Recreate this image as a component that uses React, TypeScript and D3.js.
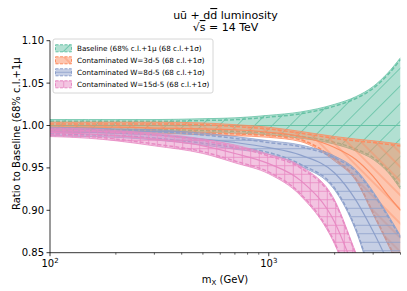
import * as d3 from "d3";

const masses = [100, 150, 200, 300, 500, 700, 1000, 1400, 2000, 2500, 3000, 3500, 4000];

const baseUp = [1.007, 1.007, 1.007, 1.007, 1.008, 1.009, 1.012, 1.016, 1.025, 1.034, 1.046, 1.062, 1.08];
const baseMid = [1, 1, 1, 1, 1, 1, 1, 1, 1, 1, 1, 1, 1];
const baseLo = [0.993, 0.993, 0.993, 0.993, 0.992, 0.991, 0.989, 0.985, 0.978, 0.97, 0.96, 0.945, 0.925];

const w3Up = [1.004, 1.004, 1.004, 1.004, 1.003, 1.001, 0.998, 0.993, 0.987, 0.984, 0.982, 0.98, 0.978];
const w3Mid = [0.998, 0.998, 0.998, 0.997, 0.996, 0.995, 0.992, 0.987, 0.974, 0.96, 0.94, 0.918, 0.9];
const w3Lo = [0.992, 0.992, 0.991, 0.991, 0.989, 0.988, 0.986, 0.981, 0.958, 0.935, 0.895, 0.86, 0.83];

const w8Up = [0.998, 0.997, 0.996, 0.995, 0.991, 0.987, 0.982, 0.977, 0.964, 0.948, 0.922, 0.895, 0.87];
const w8Mid = [0.993, 0.992, 0.991, 0.989, 0.984, 0.98, 0.974, 0.965, 0.944, 0.912, 0.875, 0.84, 0.81];
const w8Lo = [0.988, 0.987, 0.986, 0.983, 0.977, 0.972, 0.966, 0.952, 0.924, 0.876, 0.815, 0.77, 0.73];

const w15Up = [0.997, 0.996, 0.994, 0.991, 0.984, 0.977, 0.966, 0.952, 0.912, 0.85, 0.8, 0.76, 0.72];
const w15Mid = [0.992, 0.99, 0.988, 0.984, 0.976, 0.967, 0.955, 0.935, 0.886, 0.825, 0.77, 0.73, 0.69];
const w15Lo = [0.987, 0.985, 0.982, 0.976, 0.967, 0.956, 0.943, 0.917, 0.86, 0.795, 0.74, 0.7, 0.66];

const labels = [
  "Baseline (68% c.l.+1\u03bc (68 c.l.+1\u03c3)",
  "Contaminated W=3d-5 (68 c.l.+1\u03c3)",
  "Contaminated W=8d-5 (68 c.l.+1\u03c3)",
  "Contaminated W=15d-5 (68 c.l.+1\u03c3)",
];
const colors = ["#66c2a5", "#fc8d62", "#8da0cb", "#e78ac3"];
const hatches = ["/", "\\", "-", "+"];

const yTicks = [0.85, 0.9, 0.95, 1.0, 1.05, 1.1];
const xMajor = [100, 1000];
const xMinor = [200, 300, 400, 500, 600, 700, 800, 900, 2000, 3000, 4000];

const yLabel = "Ratio to Baseline (68% c.l.+1\u03bc";

const W = 407,
  H = 291;
const m = { left: 50, right: 6.5, top: 40.7, bottom: 38.3 };

const bands = [
  { up: baseUp, mid: baseMid, lo: baseLo },
  { up: w3Up, mid: w3Mid, lo: w3Lo },
  { up: w8Up, mid: w8Mid, lo: w8Lo },
  { up: w15Up, mid: w15Mid, lo: w15Lo },
];

function Hatch({ id, kind, color }: { id: string; kind: string; color: string }) {
  if (kind === "/" || kind === "\\") {
    const s = kind === "/" ? 12.5 : 10;
    return (
      <pattern
        id={id}
        width={s}
        height={s}
        patternUnits="userSpaceOnUse"
        patternTransform={`rotate(${kind === "/" ? 45 : -45})`}
      >
        <line x1={s / 2} y1={0} x2={s / 2} y2={s} stroke={color} strokeWidth={0.8} />
      </pattern>
    );
  }
  const s = 8.5;
  return (
    <pattern id={id} width={s} height={s} patternUnits="userSpaceOnUse">
      <line x1={0} y1={s / 2} x2={s} y2={s / 2} stroke={color} strokeWidth={0.8} />
      {kind === "+" && <line x1={s / 2} y1={0} x2={s / 2} y2={s} stroke={color} strokeWidth={0.8} />}
    </pattern>
  );
}

export default function App() {
  const x = d3.scaleLog().domain([100, 4000]).range([m.left, W - m.right]);
  const y = d3.scaleLinear().domain([0.85, 1.1]).range([H - m.bottom, m.top]);

  const area = d3
    .area<number>()
    .x((_, i) => x(masses[i]))
    .curve(d3.curveMonotoneX);
  const line = d3
    .line<number>()
    .x((_, i) => x(masses[i]))
    .y((d) => y(d))
    .curve(d3.curveMonotoneX);

  const font = "DejaVu Sans, sans-serif";

  return (
    <svg
      width={W}
      height={H}
      style={{ position: "fixed", left: 0, top: 0, background: "#fff" }}
      fontFamily={font}
    >
      <defs>
        <clipPath id="plot">
          <rect x={m.left} y={m.top} width={W - m.left - m.right} height={H - m.top - m.bottom} />
        </clipPath>
        {colors.map((c, i) => (
          <Hatch key={i} id={`h${i}`} kind={hatches[i]} color={c} />
        ))}
      </defs>

      {/* bands */}
      <g clipPath="url(#plot)">
        {bands.map((b, i) => {
          const a = area
            .y0((_, j) => y(b.lo[j]))
            .y1((_, j) => y(b.up[j]))(b.mid) as string;
          return (
            <g key={i}>
              <path d={a} fill={colors[i]} fillOpacity={0.5} />
              <path d={a} fill={`url(#h${i})`} />
              <path d={line(b.up)!} fill="none" stroke={colors[i]} strokeWidth={0.8} />
              <path d={line(b.lo)!} fill="none" stroke={colors[i]} strokeWidth={0.8} />
              <path
                d={line(b.up)!}
                fill="none"
                stroke={colors[i]}
                strokeWidth={1.5}
                strokeDasharray="4,2"
                transform="translate(0,1.8)"
              />
              <path
                d={line(b.lo)!}
                fill="none"
                stroke={colors[i]}
                strokeWidth={1.5}
                strokeDasharray="4,2"
                transform="translate(0,-1.8)"
              />
              <path d={line(b.mid)!} fill="none" stroke={colors[i]} strokeWidth={1.2} />
            </g>
          );
        })}
      </g>

      {/* axes */}
      <g stroke="#000" strokeWidth={0.8}>
        <line x1={m.left} x2={m.left} y1={m.top} y2={H - m.bottom} />
        <line x1={m.left} x2={W - m.right} y1={H - m.bottom} y2={H - m.bottom} />
        {yTicks.map((t) => (
          <line key={t} x1={m.left - 3.5} x2={m.left} y1={y(t)} y2={y(t)} />
        ))}
        {xMajor.map((t) => (
          <line key={t} x1={x(t)} x2={x(t)} y1={H - m.bottom} y2={H - m.bottom + 3.5} />
        ))}
        {xMinor.map((t) => (
          <line key={t} x1={x(t)} x2={x(t)} y1={H - m.bottom} y2={H - m.bottom + 2} strokeWidth={0.6} />
        ))}
      </g>
      <g fontSize={10} fill="#000">
        {yTicks.map((t) => (
          <text key={t} x={m.left - 6} y={y(t)} dy="0.35em" textAnchor="end">
            {t.toFixed(2)}
          </text>
        ))}
        {xMajor.map((t) => (
          <text key={t} x={x(t)} y={H - m.bottom + 14.5} textAnchor="middle">
            10
            <tspan fontSize={7} dy={-4}>
              {Math.round(Math.log10(t))}
            </tspan>
          </text>
        ))}
        <text x={225} y={283} textAnchor="middle">
          m<tspan fontSize={7} dy={2}>X</tspan>
          <tspan dy={-2}> (GeV)</tspan>
        </text>
        <text transform="translate(19.5,210) rotate(-90)" textAnchor="start">
          {yLabel}
        </text>
      </g>

      {/* title */}
      <g fontSize={11} textAnchor="middle" fill="#000">
        <text x={225.5} y={19}>
          {"u\u016b + d"}
          <tspan textDecoration="overline">d</tspan>
          {" luminosity"}
        </text>
        <text x={225.5} y={31}>
          {"\u221a"}
          <tspan textDecoration="overline">s</tspan>
          {" = 14 TeV"}
        </text>
      </g>

      {/* legend */}
      <g>
        <rect x={53} y={39} width={160} height={54} rx={2} fill="#fff" fillOpacity={0.8} stroke="#ccc" strokeWidth={0.8} />
        {labels.map((l, i) => {
          const ry = 48.3 + i * 12;
          return (
            <g key={i}>
              <rect x={55.5} y={ry - 3.5} width={16} height={7} fill={colors[i]} fillOpacity={0.5} />
              <rect
                x={55.5}
                y={ry - 3.5}
                width={16}
                height={7}
                fill={`url(#h${i})`}
                stroke={colors[i]}
                strokeWidth={1}
                strokeDasharray="3,1.5"
              />
              <text x={77} y={ry} dy="0.35em" fontSize={7.2} fill="#000">
                {l}
              </text>
            </g>
          );
        })}
      </g>
    </svg>
  );
}
